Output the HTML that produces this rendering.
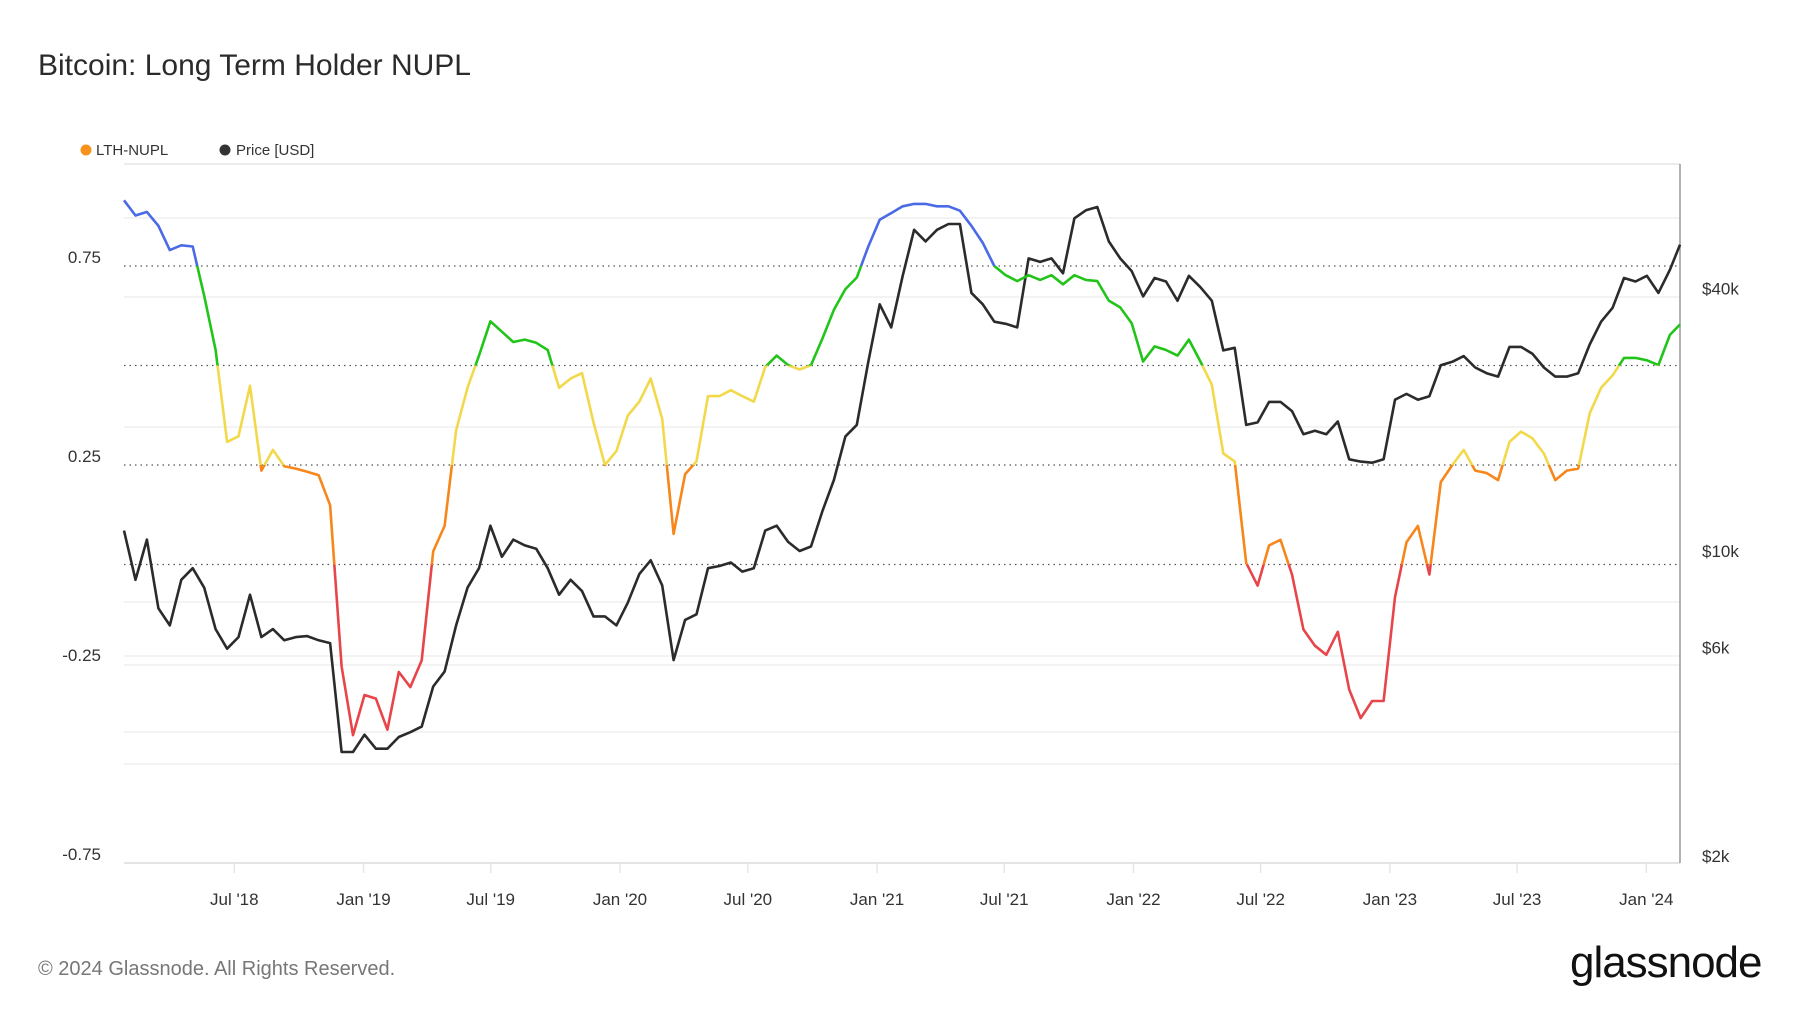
<!DOCTYPE html>
<html><head><meta charset="utf-8">
<style>
html,body{margin:0;padding:0;background:#fff;}
body{width:1800px;height:1013px;overflow:hidden;font-family:"Liberation Sans",sans-serif;}
</style></head>
<body>
<svg id="chart" width="1800" height="1013" viewBox="0 0 1800 1013" xmlns="http://www.w3.org/2000/svg">
  <text x="38" y="75" font-size="30" fill="#2b2b2b" font-family="Liberation Sans, sans-serif">Bitcoin: Long Term Holder NUPL</text>
  <g>
    <circle cx="86" cy="150" r="5.5" fill="#f7931a"/>
    <text x="96" y="155" font-size="15" fill="#333">LTH-NUPL</text>
    <circle cx="225" cy="150" r="5.5" fill="#333"/>
    <text x="236" y="155" font-size="15" fill="#333">Price [USD]</text>
  </g>
  <g id="grid"></g>
  <g id="axes"></g>
  <g id="series"></g>
  <text x="38" y="975" font-size="20" fill="#777">© 2024 Glassnode. All Rights Reserved.</text>
  <text x="1570" y="977" font-size="44" fill="#111" letter-spacing="-0.5" textLength="192">glassnode</text>
</svg>
<script>
const startDate = "2018-01-25";
const stepDays = 16.3;
const nupl = [0.915,0.877,0.886,0.851,0.790,0.802,0.799,0.675,0.539,0.308,0.322,0.449,0.236,0.288,0.247,0.241,0.233,0.224,0.149,-0.256,-0.429,-0.328,-0.337,-0.415,-0.270,-0.308,-0.241,0.033,0.097,0.337,0.444,0.525,0.611,0.585,0.559,0.565,0.557,0.539,0.444,0.467,0.481,0.357,0.250,0.285,0.374,0.409,0.467,0.366,0.077,0.227,0.259,0.423,0.423,0.438,0.423,0.409,0.496,0.525,0.501,0.490,0.501,0.568,0.640,0.692,0.721,0.799,0.866,0.883,0.900,0.906,0.906,0.900,0.900,0.889,0.851,0.808,0.750,0.727,0.712,0.727,0.715,0.727,0.704,0.727,0.715,0.712,0.663,0.646,0.606,0.510,0.548,0.539,0.525,0.565,0.510,0.452,0.279,0.259,0.004,-0.053,0.048,0.062,-0.025,-0.163,-0.204,-0.227,-0.169,-0.314,-0.386,-0.343,-0.343,-0.082,0.056,0.097,-0.025,0.207,0.250,0.288,0.236,0.230,0.212,0.308,0.334,0.317,0.279,0.212,0.236,0.241,0.380,0.444,0.475,0.519,0.519,0.513,0.501,0.577,0.603];
const price = [11140,8590,10620,7390,6750,8590,9130,8240,6620,5970,6345,7940,6345,6620,6240,6345,6380,6240,6150,3460,3460,3790,3520,3520,3745,3840,3955,4890,5290,6750,8240,9130,11430,9700,10620,10300,10120,9130,7940,8590,8090,7080,7080,6750,7610,8850,9520,8340,5620,6950,7160,9130,9240,9410,8970,9130,11140,11430,10490,10000,10240,12360,14550,18320,19460,27160,36800,32580,42780,54540,51290,54540,56230,56230,39080,36800,33570,33190,32580,46880,46030,46880,43350,57940,60440,61520,51290,46880,43850,38370,42270,41500,37500,42780,40270,37500,28840,29240,19460,19720,21980,21980,20940,18530,18880,18530,19820,16230,16030,15940,16230,22230,22930,22230,22650,26670,27160,27990,26360,25580,25120,29380,29380,28350,26360,25120,25120,25580,29760,33570,36130,42270,41500,42780,39080,44150,50410];
const leftTicks = [0.75, 0.25, -0.25, -0.75];
const leftTickLabels = ["0.75","0.25","-0.25","-0.75"];
const zoneThresholds = [0.75, 0.5, 0.25, 0];
const rightTicks = [40000, 10000, 6000, 2000];
const rightTickLabels = ["$40k","$10k","$6k","$2k"];
const xTickDates = ["2018-07-01","2019-01-01","2019-07-01","2020-01-01","2020-07-01","2021-01-01","2021-07-01","2022-01-01","2022-07-01","2023-01-01","2023-07-01","2024-01-01"];
const xTickLabels = ["Jul '18","Jan '19","Jul '19","Jan '20","Jul '20","Jan '21","Jul '21","Jan '22","Jul '22","Jan '23","Jul '23","Jan '24"];

const NS = "http://www.w3.org/2000/svg";
const L = 124, R = 1680, T = 164, B = 863;
const t0 = Date.parse(startDate);
const DAY = 86400000;
function xDay(d){ return 124 + d * 0.7025; }
function xDate(s){ return xDay((Date.parse(s) - t0)/DAY); }
function yN(v){ return 266 + (0.75 - v) * 398; }
function yP(p){ return 551 - (Math.log10(p) - 4) * 436; }
function mk(tag, attrs, parent){ const e = document.createElementNS(NS, tag); for (const k in attrs) e.setAttribute(k, attrs[k]); parent.appendChild(e); return e; }

const grid = document.getElementById('grid');
const axes = document.getElementById('axes');
const series = document.getElementById('series');

[218,297,427,602,656,665,732,764].forEach(y => {
  const ln = mk('line', {x1:L, x2:R, y1:y, y2:y, stroke:'#efefef', 'stroke-width':1.5}, grid);
  
  
});
zoneThresholds.forEach(v => {
  const ln = mk('line', {x1:L, x2:R, y1:yN(v), y2:yN(v), stroke:'#555', 'stroke-width':1.3, 'stroke-dasharray':'1.5 4'}, grid);
  
  
});
const topLine = mk('line', {x1:L, x2:R, y1:T, y2:T, stroke:'#e6e6e6', 'stroke-width':1.5}, axes);


const bottomLine = mk('line', {x1:L, x2:R, y1:B, y2:B, stroke:'#dcdcdc', 'stroke-width':1.5}, axes);


const rLine = mk('line', {x1:R, x2:R, y1:T, y2:B, stroke:'#999', 'stroke-width':1.5}, axes);



leftTicks.forEach((v,i) => {
  const t = mk('text', {x:101, y:yN(v)-3, 'text-anchor':'end', 'font-size':17, fill:'#333'}, axes);
  t.textContent = leftTickLabels[i];
  
  
});
rightTicks.forEach((p,i) => {
  const t = mk('text', {x:1702, y:yP(p)+6, 'font-size':17, fill:'#333'}, axes);
  t.textContent = rightTickLabels[i];
  
  
});
xTickDates.forEach((d,i) => {
  const x = xDate(d);
  const tk = mk('line', {x1:x, x2:x, y1:B, y2:B+10, stroke:'#e6e6e6', 'stroke-width':1.5}, axes);
  
  
  const t = mk('text', {x:x, y:905, 'text-anchor':'middle', 'font-size':17, fill:'#333'}, axes);
  t.textContent = xTickLabels[i];
  
  
});

function dayOf(i, n){ return i === n-1 ? 2215 : i * stepDays; }

let dP = '';
price.forEach((p,i) => { dP += (i ? 'L' : 'M') + xDay(dayOf(i, price.length)).toFixed(1) + ' ' + yP(p).toFixed(1); });
const pl = mk('path', {d:dP, fill:'none', stroke:'#2b2b2b', 'stroke-width':2.6, 'stroke-linejoin':'round'}, series);



let dN = '';
nupl.forEach((v,i) => { dN += (i ? 'L' : 'M') + xDay(dayOf(i, nupl.length)).toFixed(1) + ' ' + yN(v).toFixed(1); });
const defs = mk('defs', {}, series);
const zones = [
  {lo:0.75, hi:5, color:'#4a6ae6', name:'nupl-zone-euphoria'},
  {lo:0.5, hi:0.75, color:'#22c41a', name:'nupl-zone-belief'},
  {lo:0.25, hi:0.5, color:'#f2d94c', name:'nupl-zone-optimism'},
  {lo:0, hi:0.25, color:'#f7861b', name:'nupl-zone-hope'},
  {lo:-5, hi:0, color:'#e8454a', name:'nupl-zone-capitulation'}
];
zones.forEach((z,i) => {
  const cp = mk('clipPath', {id:'zc'+i}, defs);
  const y1 = Math.max(0, yN(z.hi)), y2 = Math.min(1013, yN(z.lo));
  mk('rect', {x:0, y:y1, width:1800, height:y2-y1}, cp);
  const p = mk('path', {d:dN, fill:'none', stroke:z.color, 'stroke-width':2.6, 'stroke-linejoin':'round', 'clip-path':'url(#zc'+i+')'}, series);
  
  
});
</script>
</body></html>
